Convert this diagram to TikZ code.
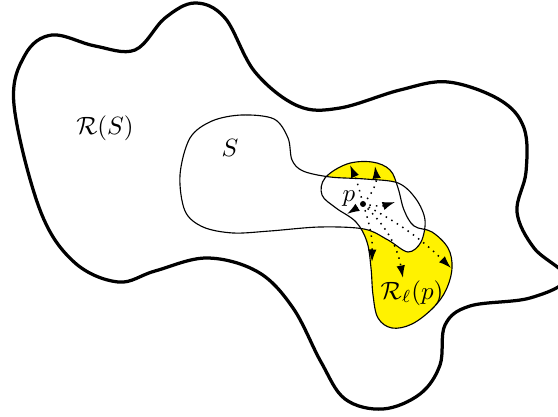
\documentclass[tikz,border=0pt]{standalone}
\usepackage{amsmath}
\usetikzlibrary{arrows.meta}

\begin{document}
\begin{tikzpicture}[x=0.4pt,y=-0.4pt,
	bound/.style={line width=1.3pt},
	edge/.style={line width=0.45pt},
	ray/.style={dotted,line width=0.6pt,-{Latex[length=5pt,width=3.4pt]}}]
	\useasboundingbox (0,0) rectangle (558,417);
	% reachable part R_l(p)
	\fill[yellow,save path=\blobpath] plot[smooth cycle,tension=0.6] coordinates {(325,178) (347,164) (372,162) (390,170) (398,188) (404,210) (414,226) (432,232) (448,248) (452,268) (446,290) (433,308) (412,324) (392,328) (378,318) (373,295) (371,268) (367,242) (356,222) (336,208) (322,195)};
	% the set S
	\filldraw[fill=white,edge] plot[smooth cycle,tension=0.55] coordinates {(180,175) (190,138) (212,121) (242,115) (274,119) (288,138) (292,160) (303,171) (330,177) (365,179) (398,183) (416,199) (425,220) (421,242) (408,252) (388,240) (364,229) (320,227) (270,231) (233,233) (203,227) (185,211)};
	\draw[edge,use path=\blobpath];
	% R(S)
	\draw[bound] plot[smooth cycle,tension=0.6] coordinates {(14,105) (25,55) (52,35) (95,46) (135,50) (165,18) (195,3) (225,18) (255,72) (298,106) (340,108) (400,90) (448,82) (500,100) (524,128) (526,172) (517,212) (534,248) (566,278) (530,298) (470,306) (445,325) (440,365) (420,394) (383,409) (345,399) (321,362) (293,308) (258,272) (207,258) (155,271) (118,282) (74,262) (40,210)};
	\coordinate (p) at (363,204);
	\coordinate (c1) at (350,165);
	\coordinate (c2) at (375,166);
	\coordinate (c3) at (395,202);
	\coordinate (c4) at (347,214);
	\coordinate (c5) at (372,262);
	\coordinate (c6) at (403,278);
	\coordinate (c7) at (451,268);
	\draw[ray] (p) to[bend right=5] (c1);
	\draw[ray] (p) to[bend right=25] (c2);
	\draw[ray] (p) to[bend right=15] (c3);
	\draw[ray] (p) -- (c4);
	\draw[ray] (p) to[bend left=10] (c5);
	\draw[ray] (p) to[bend left=18] (c6);
	\draw[ray] (p) to[bend left=8] (c7);
	\fill (p) circle (3);
	\node (lp) at (349,199) {$p$};
	\node (lrs) at (105,128) {$\mathcal{R}(S)$};
	\node (ls) at (230,148) {$S$};
	\node (lrp) at (412,293) {$\mathcal{R}_\ell(p)$};
\end{tikzpicture}
\end{document}
